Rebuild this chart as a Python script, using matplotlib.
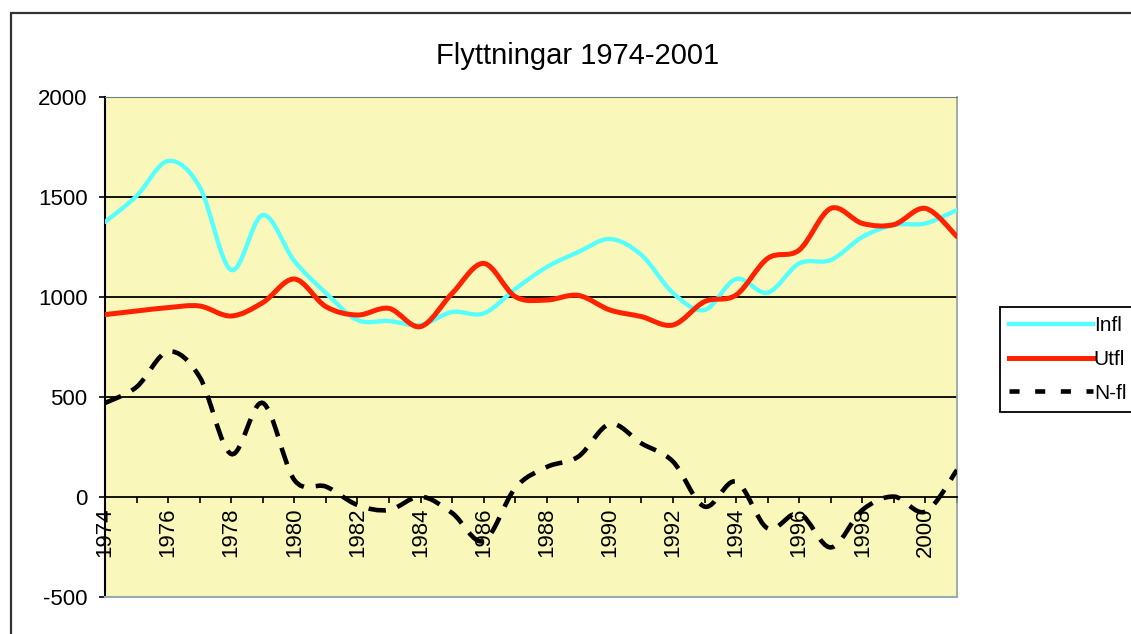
'''
Flyttningar 1974-2001: inflyttning, utflyttning och nettoflyttning.
'''
import numpy as np
import matplotlib
matplotlib.use('Agg')
import matplotlib.pyplot as plt
from matplotlib.path import Path
from matplotlib.patches import PathPatch, Rectangle
from matplotlib.lines import Line2D

plt.rcParams['font.family'] = ['Liberation Sans', 'DejaVu Sans']

# ---------------- data ----------------
years = list(range(1974, 2002))
infl = [1375, 1505, 1680, 1550, 1135, 1410, 1180, 1020, 885, 880,
        860, 925, 918, 1040, 1150, 1225, 1290, 1210, 1020, 935,
        1090, 1022, 1168, 1185, 1300, 1360, 1368, 1435]
utfl = [912, 930, 947, 955, 905, 972, 1090, 952, 910, 943,
        852, 1018, 1168, 1002, 985, 1008, 935, 902, 860, 977,
        1010, 1193, 1235, 1443, 1368, 1362, 1443, 1302]
nfl = [470, 550, 727, 600, 215, 470, 85, 52, -40, -65,
       2, -80, -220, 45, 150, 202, 365, 268, 177, -48,
       77, -157, -82, -252, -65, 2, -73, 135]
xlabels = [str(y) if y % 2 == 0 else '' for y in years]
yticks = [-500, 0, 500, 1000, 1500, 2000]

TITLE = 'Flyttningar 1974-2001'
c_in = '#55FFFF'
c_ut = '#FF2200'
c_net = 'black'
bg = '#FAF7BA'


def smooth_path(x, y):
    # Excel-like smoothed line: cubic bezier segments through the points
    x = np.asarray(x, float)
    y = np.asarray(y, float)
    n = len(x)
    verts = [(x[0], y[0])]
    codes = [Path.MOVETO]
    for i in range(n - 1):
        ip, inx = max(i - 1, 0), min(i + 2, n - 1)
        c1 = (x[i] + (x[i + 1] - x[ip]) / 6, y[i] + (y[i + 1] - y[ip]) / 6)
        c2 = (x[i + 1] - (x[inx] - x[i]) / 6, y[i + 1] - (y[inx] - y[i]) / 6)
        verts += [c1, c2, (x[i + 1], y[i + 1])]
        codes += [Path.CURVE4] * 3
    return Path(verts, codes)


fig = plt.figure(figsize=(11.31, 6.34), dpi=100)
ax = fig.add_axes([105/1131, 1 - 597/634, (957 - 105)/1131, 500/634])
ax.set_facecolor(bg)

# outer chart frame (cut off at right and bottom)
fig.patches.append(Rectangle((11/1131, -0.2), 1.5, 1.2 - 13/634, transform=fig.transFigure,
                             fill=False, edgecolor='#333333', lw=1.6))

# gridlines
for v in [500, 1000, 1500]:
    ax.axhline(v, color='black', lw=1.3, zorder=1)

# series
ax.add_patch(PathPatch(smooth_path(years, infl), fill=False, edgecolor=c_in, lw=3.1,
                       capstyle='round', joinstyle='round', zorder=3))
ax.add_patch(PathPatch(smooth_path(years, utfl), fill=False, edgecolor=c_ut, lw=3.6,
                       capstyle='round', joinstyle='round', zorder=4))
ax.add_patch(PathPatch(smooth_path(years, nfl), fill=False, edgecolor=c_net, lw=3.3,
                       linestyle=(0, (3.8, 2.6)), capstyle='butt', zorder=5))

ax.set_xlim(years[0], years[-1])
ax.set_ylim(-500, 2000)

# axes look
ax.spines['bottom'].set_position(('data', 0))
ax.spines['bottom'].set_color('black')
ax.spines['bottom'].set_linewidth(1.3)
ax.spines['left'].set_color('black')
ax.spines['left'].set_linewidth(1.5)
ax.spines['top'].set_color('#6E8080')
ax.spines['right'].set_color('#8FA0A0')
ax.spines['right'].set_linewidth(1.2)
ax.axhline(-500, color='#9AAAB0', lw=1.5, zorder=6, clip_on=False)

ax.set_xticks(years)
ax.set_xticklabels(xlabels, rotation=90, va='top', ha='center')
ax.set_yticks(yticks)
ax.set_yticklabels([str(v) for v in yticks])
ax.tick_params(axis='x', direction='out', length=4.5, width=1.2, pad=3, labelsize=16)
ax.tick_params(axis='y', direction='out', length=4.5, width=1.2, pad=8, labelsize=16)

fig.text(578/1131, 1 - 56/634, TITLE, ha='center', va='center', fontsize=21)

# legend
handles = [Line2D([], [], color=c_in, lw=3.1),
           Line2D([], [], color=c_ut, lw=3.6),
           Line2D([], [], color=c_net, lw=3.3, linestyle=(0, (2.2, 3.4)))]
leg = fig.legend(handles, ['Infl', 'Utfl', 'N-fl'], loc='upper left',
                 bbox_to_anchor=(1000/1131, 1 - 307/634), fontsize=15,
                 frameon=True, fancybox=False, edgecolor='black', framealpha=1,
                 handlelength=4.0, handletextpad=0.05, labelspacing=0.7,
                 borderpad=0.45, borderaxespad=0)
leg.get_frame().set_linewidth(1.3)

fig.savefig('out.png', dpi=100)
